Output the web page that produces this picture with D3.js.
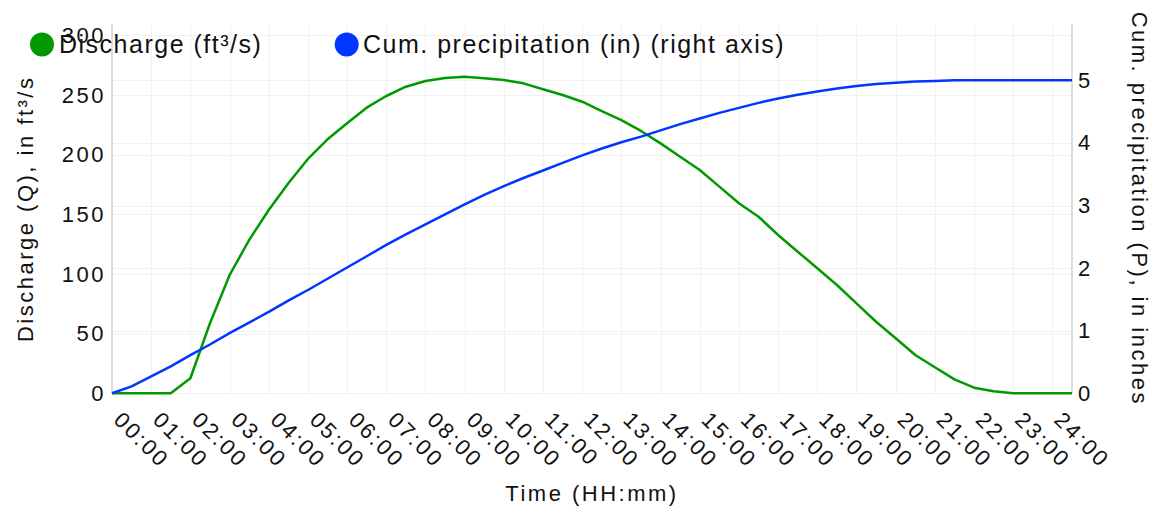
<!DOCTYPE html>
<html>
<head>
<meta charset="utf-8">
<script src="https://cdn.jsdelivr.net/npm/d3@7"></script>
<style>
  html, body { margin: 0; padding: 0; background: #fff; }
  svg { display: block; font-family: "Liberation Sans", Arial, sans-serif; }
</style>
</head>
<body>
<svg id="chart" width="1163" height="522"></svg>
<script>
// ---- data ----
const times = ["00:00","00:30","01:00","01:30","02:00","02:30","03:00","03:30","04:00","04:30",
  "05:00","05:30","06:00","06:30","07:00","07:30","08:00","08:30","09:00","09:30",
  "10:00","10:30","11:00","11:30","12:00","12:30","13:00","13:30","14:00","14:30",
  "15:00","15:30","16:00","16:30","17:00","17:30","18:00","18:30","19:00","19:30",
  "20:00","20:30","21:00","21:30","22:00","22:30","23:00","23:30","24:00","24:30"];
const discharge = [0,0,0,0,12.6,58.7,99,128.5,153.6,176,
  196.4,212.9,226.3,239.4,249.2,257,261.8,264.3,265.4,264,
  262.6,259.8,254.8,250,244.4,236.6,229,219.9,209.5,198.3,
  187.2,173.2,159.3,148,132.7,118.7,104.8,90.8,75.4,60,
  46.1,32.1,21.8,11.7,4.7,1.7,0,0,0,0];
const precip = [0,0.11,0.27,0.43,0.61,0.78,0.96,1.13,1.30,1.48,
  1.65,1.83,2.01,2.19,2.37,2.54,2.70,2.86,3.02,3.17,
  3.31,3.44,3.56,3.68,3.80,3.91,4.01,4.10,4.20,4.30,
  4.39,4.48,4.56,4.64,4.71,4.77,4.82,4.87,4.91,4.94,
  4.96,4.98,4.99,5.0,5.0,5.0,5.0,5.0,5.0,5.0];
const xTickLabels = ["00:00","01:00","02:00","03:00","04:00","05:00","06:00","07:00","08:00",
  "09:00","10:00","11:00","12:00","13:00","14:00","15:00","16:00","17:00","18:00","19:00",
  "20:00","21:00","22:00","23:00","24:00"];
const leftTicks = [0,50,100,150,200,250,300];
const rightTicks = [0,1,2,3,4,5];
const seriesNames = ["Discharge (ft³/s)", "Cum. precipitation (in) (right axis)"];
const colors = ["#009a00", "#0036ff"];

// ---- layout ----
const L = 112, R = 1072, T = 24.3, B = 393.3;
const toHours = s => { const [h, m] = s.split(":").map(Number); return h + m / 60; };

const svg = d3.select("#chart");
const x = d3.scaleLinear().domain([0, 24.5]).range([L, R]);
const yL = d3.scaleLinear().domain([0, 309.3]).range([B, T]);
const yR = d3.scaleLinear().domain([0, 5.895]).range([B, T]);

const axisFont = "22px";
const ls = "2.5px";

// grid
const grid = svg.append("g").attr("stroke", "#f1f1f1").attr("stroke-width", 1);
xTickLabels.forEach(lab => {
  const xx = Math.round(x(toHours(lab))) + 0.5;
  grid.append("line").attr("x1", xx).attr("x2", xx).attr("y1", T).attr("y2", B);
});
leftTicks.forEach(v => {
  const yy = Math.round(yL(v)) + 0.5;
  grid.append("line").attr("x1", L).attr("x2", R).attr("y1", yy).attr("y2", yy);
});
rightTicks.forEach(v => {
  const yy = Math.round(yR(v)) + 0.5;
  grid.append("line").attr("x1", L).attr("x2", R).attr("y1", yy).attr("y2", yy);
});

// axis lines
svg.append("line").attr("x1", L).attr("x2", L).attr("y1", T).attr("y2", B)
  .attr("stroke", "#dcdcdc").attr("stroke-width", 2);
svg.append("line").attr("x1", R).attr("x2", R).attr("y1", T).attr("y2", B)
  .attr("stroke", "#dcdcdc").attr("stroke-width", 2);

// left axis
const gL = svg.append("g").attr("transform", `translate(${L - 6},0)`)
  .call(d3.axisLeft(yL).tickValues(leftTicks).tickSize(0).tickPadding(0).tickFormat(d3.format("d")));
gL.select(".domain").remove();
gL.selectAll("text").attr("font-size", axisFont).attr("fill", "#111")
  .style("letter-spacing", ls).attr("font-family", "Liberation Sans, Arial, sans-serif");

// right axis
const gR = svg.append("g").attr("transform", `translate(${R + 6},0)`)
  .call(d3.axisRight(yR).tickValues(rightTicks).tickSize(0).tickPadding(0).tickFormat(d3.format("d")));
gR.select(".domain").remove();
gR.selectAll("text").attr("font-size", axisFont).attr("fill", "#111")
  .style("letter-spacing", ls).attr("font-family", "Liberation Sans, Arial, sans-serif");

// bottom axis
const gB = svg.append("g").attr("transform", `translate(0,${B})`)
  .call(d3.axisBottom(x).tickValues(xTickLabels.map(toHours)).tickSize(0)
    .tickFormat((d, i) => xTickLabels[i]));
gB.select(".domain").remove();
gB.selectAll("text")
  .attr("font-size", axisFont).attr("fill", "#111")
  .attr("font-family", "Liberation Sans, Arial, sans-serif")
  .style("letter-spacing", ls)
  .attr("text-anchor", "start")
  .attr("x", 0).attr("y", 0).attr("dy", 0)
  .attr("transform", "translate(0,28) rotate(45)");

// lines
const lineL = d3.line().x((d, i) => x(toHours(times[i]))).y(d => yL(d));
const lineR = d3.line().x((d, i) => x(toHours(times[i]))).y(d => yR(d));
svg.append("path").datum(discharge).attr("d", lineL)
  .attr("fill", "none").attr("stroke", colors[0]).attr("stroke-width", 2.5)
  .attr("stroke-linejoin", "round");
svg.append("path").datum(precip).attr("d", lineR)
  .attr("fill", "none").attr("stroke", colors[1]).attr("stroke-width", 2.5)
  .attr("stroke-linejoin", "round");

// axis titles
svg.append("text").text("Discharge (Q), in ft³/s")
  .attr("transform", `translate(33,${(T + B) / 2}) rotate(-90)`)
  .attr("text-anchor", "middle").attr("font-size", axisFont).attr("fill", "#111")
  .style("letter-spacing", ls);
svg.append("text").text("Cum. precipitation (P), in inches")
  .attr("transform", `translate(1132,${(T + B) / 2}) rotate(90)`)
  .attr("text-anchor", "middle").attr("font-size", axisFont).attr("fill", "#111")
  .style("letter-spacing", ls);
svg.append("text").text("Time (HH:mm)")
  .attr("x", (L + R) / 2).attr("y", 500.7)
  .attr("text-anchor", "middle").attr("font-size", axisFont).attr("fill", "#111")
  .style("letter-spacing", ls);

// legend
const legendPos = [{cx: 42, tx: 59}, {cx: 346.7, tx: 363}];
seriesNames.forEach((name, i) => {
  svg.append("circle").attr("cx", legendPos[i].cx).attr("cy", 44.5).attr("r", 12)
    .attr("fill", colors[i]);
  svg.append("text").text(name).attr("x", legendPos[i].tx).attr("y", 52.5)
    .attr("font-size", "25px").attr("fill", "#111").style("letter-spacing", "1.5px");
});
</script>
</body>
</html>
